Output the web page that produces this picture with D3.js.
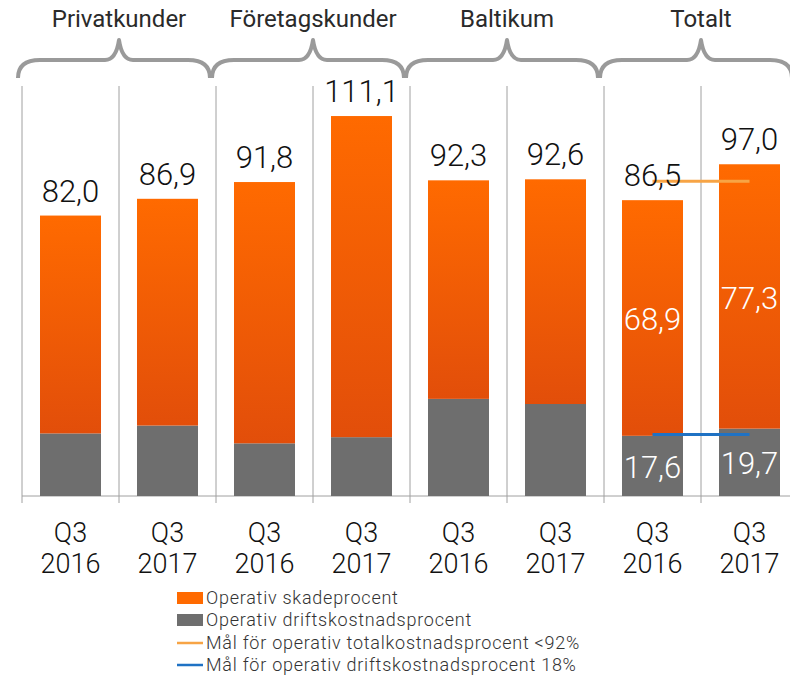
<!DOCTYPE html>
<html><head><meta charset="utf-8">
<script src="https://cdn.jsdelivr.net/npm/d3@7"></script>
<style>
html,body{margin:0;padding:0;background:#fff;}
svg{display:block;}
text{font-family:Roboto,Lato,"Open Sans",sans-serif;}
.lt{font-weight:300;}
</style></head>
<body><svg id="c" width="790" height="682"></svg>
<script>
// ---- data ----
const groups = ["Privatkunder","Företagskunder","Baltikum","Totalt"];
const quarters = ["Q3","Q3","Q3","Q3","Q3","Q3","Q3","Q3"];
const years = ["2016","2017","2016","2017","2016","2017","2016","2017"];
const totals = [82.0, 86.9, 91.8, 111.1, 92.3, 92.6, 86.5, 97.0];
const driftskostnad = [18.3, 20.6, 15.4, 17.2, 28.4, 26.9, 17.6, 19.7];
const innerLabelsSkade = ["","","","","","","68,9","77,3"];
const innerLabelsDrift = ["","","","","","","17,6","19,7"];
const targetTotal = 92;
const targetDrift = 18;
const legendLabels = ["Operativ skadeprocent","Operativ driftskostnadsprocent","Mål för operativ totalkostnadsprocent <92%","Mål för operativ driftskostnadsprocent 18%"];

const fmt = v => v.toFixed(1).replace(".", ",");

const svg = d3.select("#c");
const defs = svg.append("defs");
const grad = defs.append("linearGradient").attr("id","og").attr("x1",0).attr("x2",0).attr("y1",0).attr("y2",1);
grad.append("stop").attr("offset","0%").attr("stop-color","#FF6A00");
grad.append("stop").attr("offset","100%").attr("stop-color","#E24E0A");

const idx = d3.range(totals.length);
const x = d3.scaleBand().domain(idx).range([22, 798]).paddingInner(36/97).paddingOuter(18/97);
const y = d3.scaleLinear().domain([0,120]).range([496, 85.6]);
const step = x.step();
const x0 = 22;

// dividers
const grid = svg.append("g");
d3.range(totals.length+1).forEach(i=>{
  grid.append("line").attr("x1",x0+i*step).attr("x2",x0+i*step).attr("y1",86).attr("y2",503)
    .attr("stroke","#a0a0a0").attr("stroke-width",1);
});
grid.append("line").attr("x1",x0).attr("x2",790).attr("y1",y(0)).attr("y2",y(0)).attr("stroke","#a0a0a0").attr("stroke-width",1);

// bars
const bars = svg.append("g");
bars.selectAll("rect.d").data(idx).join("rect").attr("class","d")
  .attr("x",i=>x(i)).attr("width",x.bandwidth())
  .attr("y",i=>y(driftskostnad[i])).attr("height",i=>y(0)-y(driftskostnad[i]))
  .attr("fill","#6E6E6E");
bars.selectAll("rect.s").data(idx).join("rect").attr("class","s")
  .attr("x",i=>x(i)).attr("width",x.bandwidth())
  .attr("y",i=>y(totals[i])).attr("height",i=>y(driftskostnad[i])-y(totals[i]))
  .attr("fill","url(#og)");

// target lines (Totalt)
const tx1 = x(6)+x.bandwidth()/2, tx2 = x(7)+x.bandwidth()/2;
svg.append("line").attr("x1",tx1).attr("x2",tx2).attr("y1",y(targetTotal)).attr("y2",y(targetTotal))
  .attr("stroke","#F7A445").attr("stroke-width",3);
svg.append("line").attr("x1",tx1).attr("x2",tx2).attr("y1",y(targetDrift)).attr("y2",y(targetDrift))
  .attr("stroke","#1F72C4").attr("stroke-width",3);

// total labels
svg.selectAll("text.tot").data(idx).join("text").attr("class","tot lt")
  .attr("x",i=>x(i)+x.bandwidth()/2).attr("y",i=>y(totals[i])-14)
  .attr("text-anchor","middle").attr("font-size",31).attr("fill","#111")
  .text(i=>fmt(totals[i]));

// inner labels
svg.selectAll("text.ins").data(idx.filter(i=>innerLabelsSkade[i])).join("text").attr("class","ins lt")
  .attr("x",i=>x(i)+x.bandwidth()/2).attr("y",i=>(y(totals[i])+y(driftskostnad[i]))/2+1)
  .attr("dy","0.36em").attr("text-anchor","middle").attr("font-size",31).attr("fill","#fff")
  .text(i=>innerLabelsSkade[i]);
svg.selectAll("text.ind").data(idx.filter(i=>innerLabelsDrift[i])).join("text").attr("class","ind lt")
  .attr("x",i=>x(i)+x.bandwidth()/2).attr("y",i=>(y(0)+y(driftskostnad[i]))/2+1)
  .attr("dy","0.36em").attr("text-anchor","middle").attr("font-size",31).attr("fill","#fff")
  .text(i=>innerLabelsDrift[i]);

// category labels
const cat = svg.append("g");
idx.forEach(i=>{
  const cx = x(i)+x.bandwidth()/2;
  cat.append("text").attr("class","lt").attr("x",cx).attr("y",542).attr("text-anchor","middle").attr("font-size",27).attr("fill","#111").text(quarters[i]);
  cat.append("text").attr("class","lt").attr("x",cx).attr("y",573).attr("text-anchor","middle").attr("font-size",27).attr("fill","#111").text(years[i]);
});

// braces + group headers
const br = svg.append("g");
groups.forEach((g,k)=>{
  const a = x0 + 2*k*step - 4, b = Math.min(x0 + 2*(k+1)*step - 6, 792), m = x0 + (2*k+1)*step;
  const yE = 78, yF = 60, yP = 40;
  const p = `M${a},${yE} Q${a},${yF} ${a+22},${yF} L${m-14},${yF} Q${m-3},${yF} ${m},${yP} Q${m+3},${yF} ${m+14},${yF} L${b-22},${yF} Q${b},${yF} ${b},${yE}`;
  br.append("path").attr("d",p).attr("fill","none").attr("stroke","#9a9a9a").attr("stroke-width",4).attr("stroke-linejoin","round");
  br.append("text").attr("x",m).attr("y",27).attr("text-anchor","middle").attr("font-size",24)
    .attr("fill","#2a2a2a").attr("font-weight",400).text(g);
});

// legend
const lg = svg.append("g");
const lx = 177, ly = [598, 620, 643, 665];
lg.append("rect").attr("x",lx).attr("y",ly[0]-6).attr("width",26).attr("height",12).attr("fill","#FF6A00");
lg.append("rect").attr("x",lx).attr("y",ly[1]-6).attr("width",26).attr("height",12).attr("fill","#6E6E6E");
lg.append("line").attr("x1",lx).attr("x2",lx+26).attr("y1",ly[2]).attr("y2",ly[2]).attr("stroke","#F7A445").attr("stroke-width",2.5);
lg.append("line").attr("x1",lx).attr("x2",lx+26).attr("y1",ly[3]).attr("y2",ly[3]).attr("stroke","#1F72C4").attr("stroke-width",2.5);
legendLabels.forEach((t,i)=>{
  lg.append("text").attr("class","lt").attr("x",206).attr("y",ly[i]).attr("dy","0.36em").attr("font-size",18).attr("letter-spacing",0.75).attr("fill","#333").text(t);
});
</script></body></html>
